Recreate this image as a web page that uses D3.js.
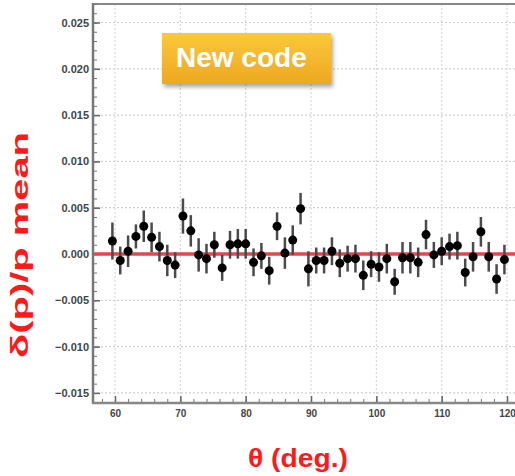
<!DOCTYPE html>
<html>
<head>
<meta charset="utf-8">
<script src="https://cdn.jsdelivr.net/npm/d3@7"></script>
<style>
  body { margin: 0; background: #fff; }
  text { font-family: "Liberation Sans", Arial, sans-serif; }
</style>
</head>
<body>
<script>
// Define data
let theta = [
  59.6, 60.8, 62.0, 63.2, 64.4, 65.6, 66.8, 68.0, 69.2, 70.4,
  71.6, 72.8, 74.0, 75.2, 76.4, 77.6, 78.8, 80.0, 81.2, 82.4,
  83.6, 84.8, 86.0, 87.2, 88.4, 89.6, 90.8, 92.0, 93.2, 94.4,
  95.6, 96.8, 98.0, 99.2, 100.4, 101.6, 102.8, 104.0, 105.2, 106.4,
  107.6, 108.8, 110.0, 111.2, 112.4, 113.6, 114.8, 116.0, 117.2, 118.4,
  119.6
];
let meanVals = [
  0.0014, -0.0007, 0.0003, 0.0019, 0.0030, 0.0018, 0.0008, -0.0007, -0.0012, 0.0041,
  0.0025, -0.0001, -0.0005, 0.0010, -0.0015, 0.0010, 0.0011, 0.0011, -0.0009, -0.0002,
  -0.0018, 0.0030, 0.0001, 0.0015, 0.0049, -0.0016, -0.0007, -0.0007, 0.0003, -0.0010,
  -0.0005, -0.0005, -0.0023, -0.0011, -0.0014, -0.0005, -0.0030, -0.0004, -0.0004, -0.0009,
  0.0021, -0.0001, 0.0003, 0.0008, 0.0009, -0.0020, -0.0003, 0.0024, -0.0003, -0.0027,
  -0.0006
];
let errVals = [
  0.0020, 0.0015, 0.0017, 0.0013, 0.0017, 0.0016, 0.0016, 0.0017, 0.0014, 0.0019,
  0.0017, 0.0018, 0.0016, 0.0014, 0.0014, 0.0015, 0.0016, 0.0016, 0.0015, 0.0014,
  0.0015, 0.0015, 0.0017, 0.0016, 0.0017, 0.0019, 0.0014, 0.0014, 0.0015, 0.0015,
  0.0014, 0.0015, 0.0016, 0.0014, 0.0016, 0.0016, 0.0014, 0.0017, 0.0017, 0.0016,
  0.0016, 0.0014, 0.0015, 0.0014, 0.0015, 0.0015, 0.0016, 0.0016, 0.0016, 0.0016,
  0.0016
];
let yTicks = [0.025, 0.020, 0.015, 0.010, 0.005, 0.000, -0.005, -0.010, -0.015];
let xTicks = [60, 70, 80, 90, 100, 110, 120];

let data = theta.map((t, i) => ({ theta: t, mean: meanVals[i], err: errVals[i] }));

// Create SVG
let width = 515, height = 476;
let margin = { top: 4, bottom: 403, left: 93, right: 515 };

let svg = d3.select('body')
  .append('svg')
  .attr('width', width)
  .attr('height', height);

let defs = svg.append('defs');
let grad = defs.append('linearGradient')
  .attr('id', 'legendGrad')
  .attr('x1', 0).attr('y1', 0).attr('x2', 0).attr('y2', 1);
grad.append('stop').attr('offset', '0%').attr('stop-color', '#fbc83c');
grad.append('stop').attr('offset', '100%').attr('stop-color', '#eda822');
let shadow = defs.append('filter').attr('id', 'shadow')
  .attr('x', '-10%').attr('y', '-10%').attr('width', '130%').attr('height', '140%');
shadow.append('feDropShadow')
  .attr('dx', 2).attr('dy', 3).attr('stdDeviation', 2)
  .attr('flood-color', '#000').attr('flood-opacity', 0.35);

// Scales
let xScale = d3.scaleLinear()
  .domain([56.63, 121.22])
  .range([margin.left, margin.right]);

let yScale = d3.scaleLinear()
  .domain([-0.01609, 0.027])
  .range([margin.bottom, margin.top]);

// Grid lines (dotted)
svg.append('g')
  .selectAll('line')
  .data(yTicks)
  .enter()
  .append('line')
  .attr('x1', margin.left)
  .attr('x2', margin.right)
  .attr('y1', d => yScale(d))
  .attr('y2', d => yScale(d))
  .style('stroke', '#cfcfcf')
  .style('stroke-width', 1.2)
  .style('stroke-dasharray', '2,2');

svg.append('g')
  .selectAll('line')
  .data(xTicks)
  .enter()
  .append('line')
  .attr('x1', d => xScale(d))
  .attr('x2', d => xScale(d))
  .attr('y1', margin.top)
  .attr('y2', margin.bottom)
  .style('stroke', '#d8d8d8')
  .style('stroke-width', 1.2)
  .style('stroke-dasharray', '2,2');

// Frame: top line
svg.append('line')
  .attr('x1', margin.left).attr('x2', margin.right)
  .attr('y1', margin.top).attr('y2', margin.top)
  .style('stroke', '#888').style('stroke-width', 2);

// Y axis (ticks pointing inward)
let yMinor = d3.range(-16, 28).map(d => d / 1000);
let yAxis = svg.append('g')
  .attr('transform', `translate(${margin.left},0)`)
  .call(d3.axisRight(yScale).tickValues(yMinor).tickSize(4).tickFormat(''));
yAxis.select('.domain').remove();
yAxis.selectAll('line').style('stroke', '#777');

let yMajor = svg.append('g')
  .attr('transform', `translate(${margin.left},0)`)
  .call(d3.axisRight(yScale).tickValues(yTicks).tickSize(7).tickFormat(d3.format('.3f')));
yMajor.select('.domain').remove();
yMajor.selectAll('line').style('stroke', '#666').style('stroke-width', 1.5);
yMajor.selectAll('text')
  .attr('x', -4)
  .attr('text-anchor', 'end')
  .style('font-size', '11px')
  .style('font-weight', 'bold')
  .style('fill', '#444');

svg.append('line')
  .attr('x1', margin.left).attr('x2', margin.left)
  .attr('y1', margin.top - 1).attr('y2', margin.bottom + 1)
  .style('stroke', '#777').style('stroke-width', 2.5);

// X axis (ticks pointing inward)
let xMinor = d3.range(58, 122, 2);
let xAxis = svg.append('g')
  .attr('transform', `translate(0,${margin.bottom})`)
  .call(d3.axisTop(xScale).tickValues(xMinor).tickSize(4).tickFormat(''));
xAxis.select('.domain').remove();
xAxis.selectAll('line').style('stroke', '#777');

let xMajor = svg.append('g')
  .attr('transform', `translate(0,${margin.bottom})`)
  .call(d3.axisTop(xScale).tickValues(xTicks).tickSize(7).tickFormat(d3.format('d')));
xMajor.select('.domain').remove();
xMajor.selectAll('line').style('stroke', '#666').style('stroke-width', 1.5);
xMajor.selectAll('text')
  .attr('y', 14)
  .style('font-size', '10px')
  .style('font-weight', 'bold')
  .style('fill', '#444');

svg.append('line')
  .attr('x1', margin.left - 1).attr('x2', margin.right)
  .attr('y1', margin.bottom).attr('y2', margin.bottom)
  .style('stroke', '#888').style('stroke-width', 2.5);

// Zero line
svg.append('line')
  .attr('x1', margin.left)
  .attr('x2', margin.right)
  .attr('y1', yScale(0))
  .attr('y2', yScale(0))
  .style('stroke', '#e2474b')
  .style('stroke-width', 3.5);

// Error bars
svg.append('g')
  .selectAll('line')
  .data(data)
  .enter()
  .append('line')
  .attr('x1', d => xScale(d.theta))
  .attr('x2', d => xScale(d.theta))
  .attr('y1', d => yScale(d.mean + d.err))
  .attr('y2', d => yScale(d.mean - d.err))
  .style('stroke', '#4a4a4a')
  .style('stroke-width', 2.5);

// Points
svg.append('g')
  .selectAll('circle')
  .data(data)
  .enter()
  .append('circle')
  .attr('cx', d => xScale(d.theta))
  .attr('cy', d => yScale(d.mean))
  .attr('r', 4.5)
  .style('fill', '#000');

// Legend box
svg.append('rect')
  .attr('x', 162)
  .attr('y', 33)
  .attr('width', 169)
  .attr('height', 51)
  .style('fill', 'url(#legendGrad)')
  .attr('filter', 'url(#shadow)');

svg.append('text')
  .attr('x', 176)
  .attr('y', 67)
  .style('font-size', '28px')
  .style('font-weight', 'bold')
  .style('fill', '#fff')
  .text('New code');

// Y axis title
svg.append('text')
  .attr('transform', 'translate(28,245) rotate(-90)')
  .attr('text-anchor', 'middle')
  .attr('textLength', 226)
  .attr('lengthAdjust', 'spacingAndGlyphs')
  .style('font-size', '23px')
  .style('font-weight', 'bold')
  .style('fill', '#ff1a1a')
  .text('δ(p)/p mean');

// X axis title
svg.append('text')
  .attr('x', 298)
  .attr('y', 467)
  .attr('text-anchor', 'middle')
  .attr('textLength', 100)
  .attr('lengthAdjust', 'spacingAndGlyphs')
  .style('font-size', '26px')
  .style('font-weight', 'bold')
  .style('fill', '#ff1a1a')
  .text('θ (deg.)');
</script>
</body>
</html>
